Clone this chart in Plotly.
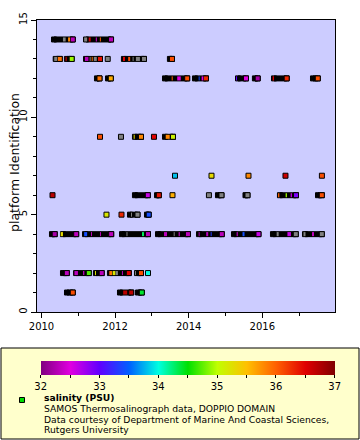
import plotly.graph_objects as go

# ---------------- data ----------------
# dense tracks (many overlapping markers) : platform, start, end (decimal year)
seg_platform = [14, 14,
                13, 13, 13, 13, 13,
                12, 12, 12, 12, 12, 12, 12, 12,
                9, 9,
                6, 6, 6, 6, 6, 6,
                5, 5,
                4, 4, 4, 4, 4, 4, 4, 4, 4,
                2, 2, 2, 2, 2,
                1, 1, 1]
seg_start = [2010.34, 2011.21,
             2010.386, 2010.69, 2011.21, 2012.24, 2013.49,
             2011.508, 2011.807, 2013.356, 2014.171, 2015.34, 2015.80, 2016.318, 2017.378,
             2012.54, 2013.356,
             2012.54, 2013.14, 2014.796, 2015.543, 2016.48, 2017.514,
             2012.405, 2012.867,
             2010.285, 2010.584, 2011.182, 2012.188, 2013.166, 2014.28, 2015.231, 2016.29, 2017.16,
             2010.584, 2010.94, 2011.48, 2011.86, 2012.595,
             2010.693, 2012.133, 2012.622]
seg_end = [2010.85, 2011.89,
           2010.497, 2010.82, 2011.59, 2012.785, 2013.546,
           2011.576, 2011.883, 2013.959, 2014.47, 2015.557, 2015.875, 2016.663, 2017.508,
           2012.704, 2013.573,
           2012.889, 2013.188, 2014.891, 2015.598, 2016.916, 2017.617,
           2012.609, 2012.913,
           2010.359, 2010.943, 2011.894, 2012.894, 2013.98, 2014.899, 2015.897, 2016.91, 2017.617,
           2010.688, 2011.285, 2011.636, 2012.372, 2012.704,
           2010.85, 2012.438, 2012.726]

# fully visible markers: platform, time, salinity (None = no value -> grey)
pt_platform = [14, 14,
               13, 13, 13, 13, 13, 13,
               12, 12, 12, 12, 12, 12, 12, 12,
               9, 9, 9, 9, 9,
               7, 7, 7, 7, 7,
               6, 6, 6, 6, 6, 6, 6, 6, 6,
               5, 5, 5, 5,
               4, 4, 4, 4, 4, 4, 4, 4, 4,
               2, 2, 2, 2, 2, 2,
               1, 1, 1]
pt_time = [2010.85, 2011.89,
           2010.497, 2010.82, 2011.59, 2011.80, 2012.785, 2013.546,
           2011.576, 2011.883, 2013.959, 2014.47, 2015.557, 2015.875, 2016.663, 2017.508,
           2011.59, 2012.16, 2012.704, 2013.057, 2013.573,
           2013.628, 2014.62, 2015.625, 2016.63, 2017.62,
           2010.30, 2012.889, 2013.188, 2013.56, 2014.55, 2014.891, 2015.598, 2016.916, 2017.617,
           2011.766, 2012.174, 2012.609, 2012.913,
           2010.359, 2010.943, 2011.894, 2012.894, 2013.98, 2014.899, 2015.897, 2016.91, 2017.617,
           2010.688, 2011.285, 2011.636, 2012.372, 2012.704, 2012.894,
           2010.85, 2012.438, 2012.726]
pt_salinity = [32.3, 32.3,
               35.9, 34.9, 36.4, None, None, 36.1,
               35.9, 35.6, 36.1, 36.3, 32.5, 32.2, 36.3, 36.1,
               36.1, None, 35.8, 36.5, 35.1,
               33.8, 35.3, 35.8, 36.6, 36.1,
               36.7, 32.6, 36.4, 35.6, None, None, None, 32.9, 36.1,
               35.2, 36.3, None, 33.4,
               32.2, 32.3, 32.3, 32.3, 32.3, 32.3, 32.6, None, None,
               32.3, 34.7, 32.3, 36.5, 36.1, 34.0,
               36.1, 36.7, 34.4]

# partly hidden markers inside the tracks: platform, time, salinity, visible width (px)
sl_platform = [14, 14, 14, 14, 14, 14,
               13, 13, 13, 13, 13, 13, 13, 13, 13, 13,
               12, 12, 12, 12, 12, 12,
               9, 9,
               6, 6, 6,
               5,
               4, 4, 4, 4, 4, 4, 4, 4, 4, 4, 4, 4, 4, 4, 4, 4, 4, 4,
               2, 2, 2, 2, 2, 2, 2, 2,
               1]
sl_time = [2010.62, 2010.75, 2011.20, 2011.31, 2011.49, 2011.60,
           2010.386, 2010.67, 2011.228, 2011.323, 2011.378, 2011.462, 2012.242, 2012.383, 2012.49, 2012.62,
           2013.552, 2013.736, 2014.285, 2014.375, 2015.30, 2016.30,
           2012.519, 2013.43,
           2016.446, 2016.652, 2016.788,
           2012.446,
           2010.552, 2011.20, 2011.359, 2011.603, 2012.323, 2012.758, 2013.37, 2013.606, 2013.742,
           2014.285, 2014.503, 2014.611, 2015.318, 2015.49, 2016.418, 2016.731, 2017.147, 2017.378,
           2010.943, 2011.147, 2011.467, 2011.88, 2011.97, 2012.046, 2012.20, 2012.554,
           2012.274]
sl_salinity = [None, 35.8, None, 36.6, 32.4, 36.0,
               None, 36.5, 32.3, None, 35.9, None, 36.5, 36.1, None, None,
               36.0, 32.5, 33.4, 32.5, 33.0, 36.5,
               35.3, 35.8,
               36.0, 34.9, 32.6,
               None,
               35.3, 33.4, 32.3, 32.3, None, 34.3, 32.3, None, 32.5,
               32.2, 32.3, 33.3, 32.5, 33.4, None, 32.6, None, 32.3,
               32.3, 32.3, 35.2, 35.9, 35.2, None, 32.3, None,
               36.7]
sl_width = [2.7, 2, 3, 2, 1, 1,
            3, 1, 3.5, 1, 1, 3, 2, 2, 1, 4,
            1, 3.5, 1, 1.7, 1, 1.3,
            1, 4,
            1.3, 1.3, 1.3,
            1,
            2.3, 3, 1, 1, 1, 2, 3, 1, 1,
            1, 2, 1, 1, 2, 2, 3.5, 2, 2,
            3.5, 1.3, 1, 2.7, 2.7, 2.3, 1, 1,
            4]

cbar_ticks = [32, 32.5, 33, 33.5, 34, 34.5, 35, 35.5, 36, 36.5, 37]
cbar_labels = ["32", "", "33", "", "34", "", "35", "", "36", "", "37"]
x_range = [2009.878, 2017.976]
y_range = [0, 15]
legend_lines = ["<b>salinity (PSU)</b>",
                "SAMOS Thermosalinograph data, DOPPIO DOMAIN",
                "Data courtesy of Department of Marine And Coastal Sciences,",
                "Rutgers University"]

colorscale = [
    [0.0, "#800080"], [0.1, "#e000e0"], [0.2, "#6000ff"], [0.3, "#0060ff"],
    [0.4, "#00ffe0"], [0.5, "#00e000"], [0.6, "#c0ff00"], [0.7, "#ffc000"],
    [0.8, "#ff6000"], [0.9, "#e00000"], [1.0, "#800000"],
]
GREY = "#808080"
FONT = "DejaVu Sans"

# ---------------- layout helpers (pixel -> paper, margins are 0) ----------------
W, H = 360, 440
PL, PR, PT, PB = 37, 335, 20, 312


def px_x(px):
    return px / W


def px_y(py):
    return 1 - py / H


fig = go.Figure()

# black tracks
bx, by = [], []
for p, s, e in zip(seg_platform, seg_start, seg_end):
    bx += [s, e, None]
    by += [p, p, None]
fig.add_trace(go.Scatter(
    x=bx, y=by, mode="lines+markers",
    line=dict(color="black", width=6),
    marker=dict(symbol="square", size=5, color="black",
                line=dict(color="black", width=1)),
    hoverinfo="skip", showlegend=False))

# grey (no value) full markers
gx = [t for t, s in zip(pt_time, pt_salinity) if s is None]
gy = [p for p, s in zip(pt_platform, pt_salinity) if s is None]
fig.add_trace(go.Scatter(
    x=gx, y=gy, mode="markers",
    marker=dict(symbol="square", size=5, color=GREY,
                line=dict(color="black", width=1)),
    showlegend=False))

# coloured full markers
cx = [t for t, s in zip(pt_time, pt_salinity) if s is not None]
cy = [p for p, s in zip(pt_platform, pt_salinity) if s is not None]
cv = [s for s in pt_salinity if s is not None]
fig.add_trace(go.Scatter(
    x=cx, y=cy, mode="markers",
    marker=dict(symbol="square", size=5, color=cv, coloraxis="coloraxis",
                line=dict(color="black", width=1)),
    showlegend=False))

# partly hidden markers (slivers)
sgx = [t for t, s in zip(sl_time, sl_salinity) if s is None]
sgy = [p for p, s in zip(sl_platform, sl_salinity) if s is None]
sgw = [w for w, s in zip(sl_width, sl_salinity) if s is None]
fig.add_trace(go.Scatter(
    x=sgx, y=sgy, mode="markers",
    marker=dict(symbol="line-ns-open", size=2.9, color=GREY,
                line=dict(width=sgw)),
    showlegend=False))
scx = [t for t, s in zip(sl_time, sl_salinity) if s is not None]
scy = [p for p, s in zip(sl_platform, sl_salinity) if s is not None]
scv = [s for s in sl_salinity if s is not None]
scw = [w for w, s in zip(sl_width, sl_salinity) if s is not None]
fig.add_trace(go.Scatter(
    x=scx, y=scy, mode="markers",
    marker=dict(symbol="line-ns-open", size=2.9, color=scv, coloraxis="coloraxis",
                line=dict(width=scw)),
    showlegend=False))

axis_common = dict(showline=True, mirror=True, linecolor="black", linewidth=1,
                   showgrid=False, zeroline=False, ticks="outside", automargin=False,
                   tickcolor="black", ticklen=5, tickwidth=1,
                   tickfont=dict(family=FONT, size=10, color="black"))

legend_y = [397.6, 408.3, 419.0, 429.7]
annotations = [
    dict(text="platform Identification", textangle=-90, showarrow=False,
         xref="paper", yref="paper", x=px_x(14), y=px_y(163),
         xanchor="center", yanchor="middle",
         font=dict(family=FONT, size=12.5, color="black")),
]
for txt, yy in zip(legend_lines, legend_y):
    annotations.append(dict(
        text=txt, showarrow=False, xref="paper", yref="paper",
        x=px_x(42), y=px_y(yy), xanchor="left", yanchor="middle",
        font=dict(family=FONT, size=9.2, color="black")))

fig.update_layout(
    width=W, height=H, autosize=False,
    margin=dict(l=0, r=0, t=0, b=0, pad=0),
    paper_bgcolor="white", plot_bgcolor="#ccccff",
    font=dict(family=FONT, size=10, color="black"),
    xaxis=dict(domain=[PL / W, PR / W], range=x_range, tick0=2010, dtick=2,
               tickformat="d",
               minor=dict(dtick=1, tick0=2010, ticks="outside", ticklen=3,
                          tickcolor="black", tickwidth=1),
               **axis_common),
    yaxis=dict(domain=[1 - PB / H, 1 - PT / H], range=y_range, tick0=0, dtick=5,
               tickangle=-90,
               minor=dict(dtick=1, tick0=0, ticks="outside", ticklen=3,
                          tickcolor="black", tickwidth=1),
               **axis_common),
    coloraxis=dict(
        colorscale=colorscale, cmin=32, cmax=37,
        colorbar=dict(
            orientation="h", title=dict(text=""),
            x=px_x(40.7), xanchor="left", y=px_y(360.7), yanchor="top",
            len=294, lenmode="pixels", thickness=13.6, thicknessmode="pixels",
            xpad=0, ypad=0, outlinewidth=0,
            tickvals=cbar_ticks, ticktext=cbar_labels,
            ticks="outside", ticklen=3, tickcolor="black",
            tickfont=dict(family=FONT, size=10, color="black"),
        ),
    ),
    shapes=[
        dict(type="rect", xref="paper", yref="paper", layer="below",
             x0=px_x(1), x1=px_x(359), y0=px_y(439), y1=px_y(348),
             fillcolor="#ffffcc", line=dict(color="black", width=1)),
        dict(type="rect", xref="paper", yref="paper", layer="above",
             x0=px_x(19.5), x1=px_x(24.5), y0=px_y(402.5), y1=px_y(397.5),
             fillcolor="#00dd00", line=dict(color="black", width=1)),
    ],
    annotations=annotations,
)

fig.write_html("out.html",
               config={"displayModeBar": False, "staticPlot": False},
               post_script="document.body.style.margin='0';"
                           "document.body.style.padding='0';")
